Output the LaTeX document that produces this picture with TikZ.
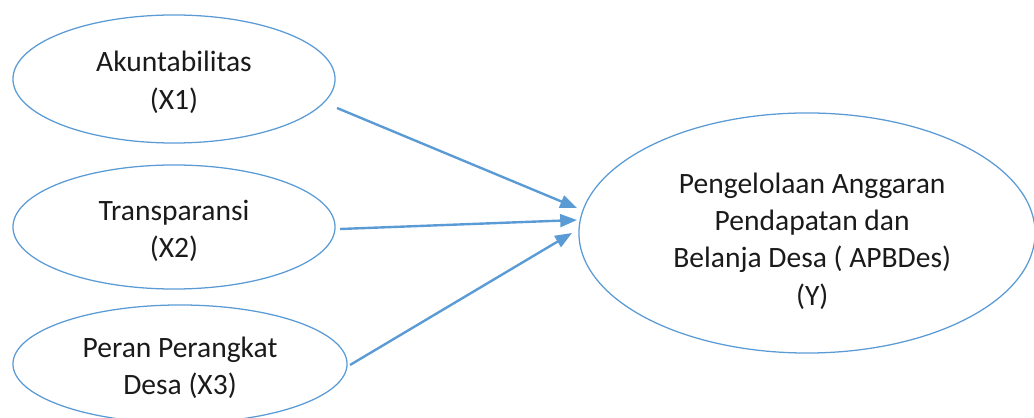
\documentclass[tikz,border=0pt]{standalone}
\usepackage{fontspec}
\setmainfont{Carlito}
\usetikzlibrary{shapes.geometric,arrows.meta}
\definecolor{lineblue}{HTML}{5B9BD5}
\definecolor{textgray}{HTML}{1A1A1A}

\begin{document}
\begin{tikzpicture}[x=0.025cm,y=-0.025cm,
    var/.style={ellipse,draw=lineblue,line width=0.9pt,inner sep=0pt},
    lbl/.style={align=center,text=textgray,font=\fontsize{21}{26.5}\selectfont},
    arr/.style={draw=lineblue,line width=1.7pt,
      -{Triangle[length=0.42cm,width=0.32cm]}}]
  \useasboundingbox (0,0) rectangle (1034,418);
  \clip (0,0) rectangle (1034,418);

  \node[var,minimum width=8.05cm,minimum height=3.2cm,
    label={[lbl,yshift=-0.08cm]center:Akuntabilitas\\(X1)}] (x1) at (174,79) {};
  \node[var,minimum width=8.05cm,minimum height=3.1cm,
    label={[lbl,yshift=-0.1cm]center:Transparansi\\(X2)}] (x2) at (174,227) {};
  \node[var,minimum width=8.35cm,minimum height=2.95cm,
    label={[lbl,yshift=-0.1cm]center:Peran Perangkat\\Desa (X3)}] (x3) at (180,364) {};
  \node[var,minimum width=11.4cm,minimum height=6cm,
    label={[lbl,xshift=0.13cm,yshift=-0.2cm]center:Pengelolaan Anggaran\\Pendapatan dan\\Belanja Desa ( APBDes)\\(Y)}] (y) at (807,233) {};

  \coordinate (s1) at (337,108);
  \coordinate (s2) at (340,229);
  \coordinate (s3) at (350,365);
  \coordinate (e1) at (577,208);
  \coordinate (e2) at (577,220);
  \coordinate (e3) at (572,233);
  \draw[arr] (s1) -- (e1);
  \draw[arr] (s2) -- (e2);
  \draw[arr] (s3) -- (e3);
\end{tikzpicture}
\end{document}
